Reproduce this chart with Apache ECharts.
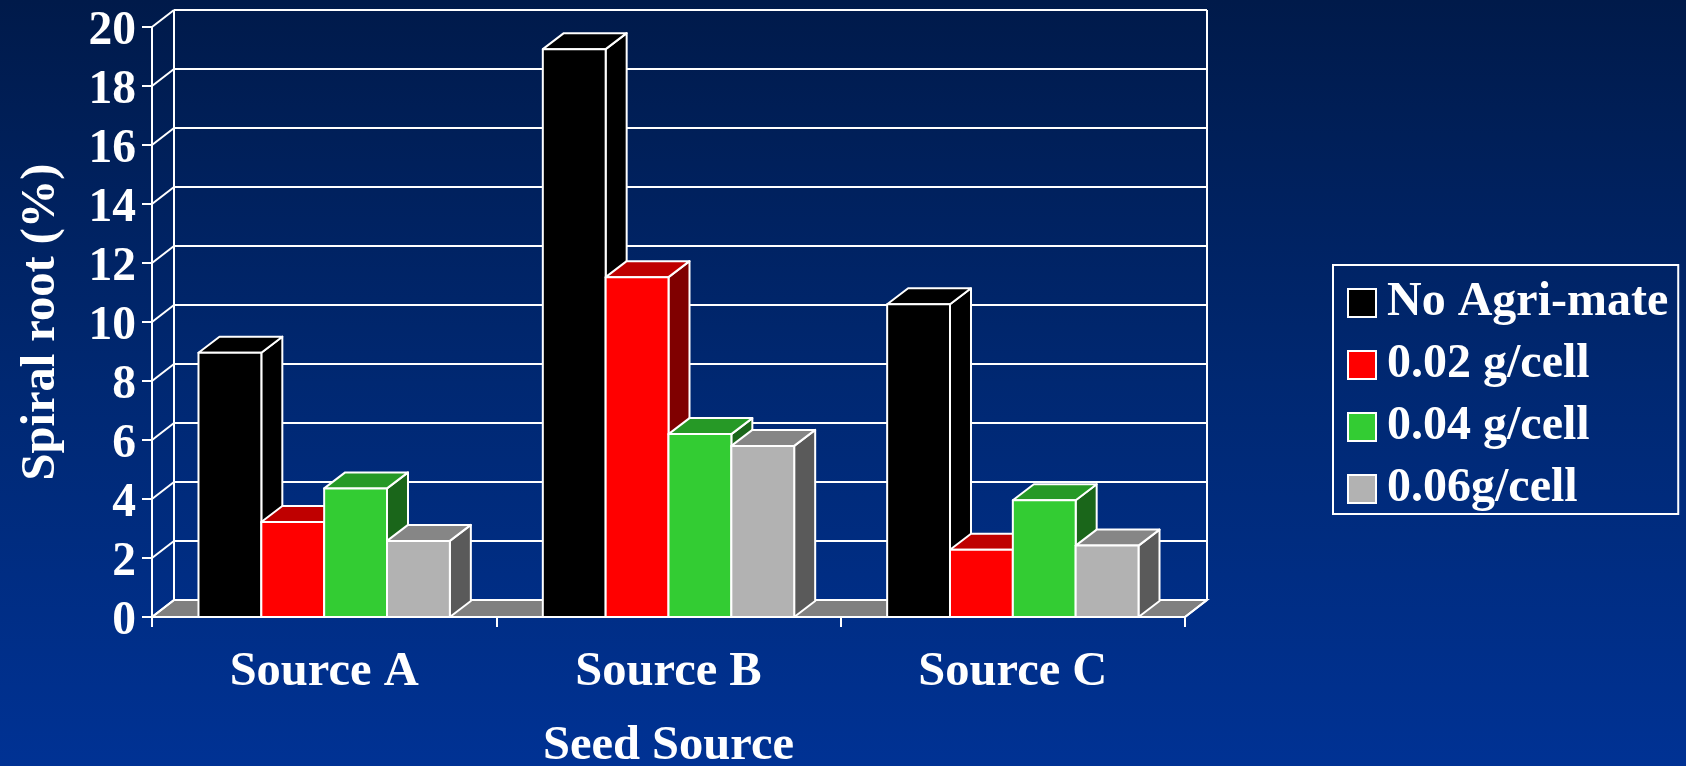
<!DOCTYPE html>
<html>
<head>
<meta charset="utf-8">
<style>html,body{margin:0;padding:0;width:100%;height:100%;overflow:hidden;background:#002a78}#c{width:1686px;height:766px}</style>
<script src="https://cdn.jsdelivr.net/npm/echarts@6/dist/echarts.min.js"></script>
</head>
<body>
<div id="c"></div>
<script>
const categories = ['Source A', 'Source B', 'Source C'];
const seriesNames = ['No Agri-mate', '0.02 g/cell', '0.04 g/cell', '0.06g/cell'];
const noAgriMate = [8.96, 19.25, 10.6];
const g002 = [3.22, 11.52, 2.28];
const g004 = [4.36, 6.2, 3.96];
const g006 = [2.58, 5.8, 2.42];
const yTicks = [0, 2, 4, 6, 8, 10, 12, 14, 16, 18, 20];

const seriesValues = [noAgriMate, g002, g004, g006];
const frontColors = ['#000000', '#ff0000', '#33cc33', '#b2b2b2'];
const topColors = ['#000000', '#bf0000', '#269926', '#868686'];
const sideColors = ['#000000', '#800000', '#1a661a', '#5a5a5a'];
const FONT = '"Liberation Serif","Times New Roman",serif';
const WALL_DX = 22, WALL_DY = 17, BAR_DX = 21, BAR_DY = 16, BAR_FRAC = 0.1825;
const LINE = {stroke: '#fff', lineWidth: 2};

function renderWall(params, api) {
  const cs = params.coordSys;
  const v = api.value(0);
  const y = api.coord([0, v])[1];
  const x0 = cs.x, x1 = cs.x + cs.width;
  const kids = [
    {type: 'line', shape: {x1: x0, y1: y, x2: x0 + WALL_DX, y2: y - WALL_DY}, style: LINE},
    {type: 'line', shape: {x1: x0 + WALL_DX, y1: y - WALL_DY, x2: x1 + WALL_DX, y2: y - WALL_DY}, style: LINE}
  ];
  if (v === 0) {
    kids.unshift({type: 'polygon', shape: {points: [[x0, y], [x0 + WALL_DX, y - WALL_DY], [x1 + WALL_DX, y - WALL_DY], [x1, y]]},
      style: {fill: '#808080', stroke: '#fff', lineWidth: 2}});
    kids.push({type: 'line', shape: {x1: x1, y1: y, x2: x1 + WALL_DX, y2: y - WALL_DY}, style: LINE});
    kids.push({type: 'line', shape: {x1: x0 + WALL_DX, y1: y - WALL_DY, x2: x0 + WALL_DX, y2: cs.y - WALL_DY}, style: LINE});
    kids.push({type: 'line', shape: {x1: x1 + WALL_DX, y1: y - WALL_DY, x2: x1 + WALL_DX, y2: cs.y - WALL_DY}, style: LINE});
  }
  return {type: 'group', children: kids};
}

function makeBarRenderer(s) {
  return function (params, api) {
    const base = api.coord([api.value(0), 0]);
    const top = api.coord([api.value(0), api.value(1)]);
    const w = api.size([1, 0])[0] * BAR_FRAC;
    const l = base[0] + (s - 2) * w, r = l + w;
    const ty = top[1], by = base[1];
    const st = {stroke: '#fff', lineWidth: 2, lineJoin: 'round'};
    return {type: 'group', children: [
      {type: 'polygon', shape: {points: [[r, ty], [r + BAR_DX, ty - BAR_DY], [r + BAR_DX, by - BAR_DY], [r, by]]},
        style: Object.assign({fill: sideColors[s]}, st)},
      {type: 'polygon', shape: {points: [[l, ty], [l + BAR_DX, ty - BAR_DY], [r + BAR_DX, ty - BAR_DY], [r, ty]]},
        style: Object.assign({fill: topColors[s]}, st)},
      {type: 'rect', shape: {x: l, y: ty, width: w, height: by - ty},
        style: Object.assign({fill: frontColors[s]}, st)}
    ]};
  };
}

const chart = echarts.init(document.getElementById('c'), null, {renderer: 'canvas'});
chart.setOption({
  animation: false,
  backgroundColor: {type: 'linear', x: 0, y: 0, x2: 0, y2: 1, colorStops: [
    {offset: 0, color: '#001a4a'}, {offset: 0.5, color: '#002872'}, {offset: 1, color: '#003294'}]},
  textStyle: {fontFamily: FONT},
  grid: {left: 152, right: 501, top: 27, bottom: 149, outerBoundsMode: 'none', containLabel: false},
  legend: {
    orient: 'vertical', left: 1333, top: 265,
    padding: [14, 10, 1, 14], itemGap: 14, itemWidth: 28, itemHeight: 28,
    borderColor: '#fff', borderWidth: 2, backgroundColor: 'transparent',
    textStyle: {color: '#fff', fontFamily: FONT, fontWeight: 'bold', fontSize: 48, padding: [0, 0, 0, 6]},
    data: seriesNames.map((n, i) => ({name: n, icon: 'rect',
      itemStyle: {color: frontColors[i], borderColor: '#fff', borderWidth: 2}}))
  },
  xAxis: {
    type: 'category', data: categories,
    axisLine: {show: true, onZero: true, lineStyle: {color: '#fff', width: 2}},
    axisTick: {show: true, length: 10, lineStyle: {color: '#fff', width: 2}},
    axisLabel: {color: '#fff', fontFamily: FONT, fontWeight: 'bold', fontSize: 48.5, margin: 31},
    name: 'Seed Source', nameLocation: 'middle', nameGap: 105,
    nameTextStyle: {color: '#fff', fontFamily: FONT, fontWeight: 'bold', fontSize: 48.5}
  },
  yAxis: {
    type: 'value', min: 0, max: 20, interval: 2,
    axisLine: {show: true, lineStyle: {color: '#fff', width: 2}},
    axisTick: {show: true, length: 10, lineStyle: {color: '#fff', width: 2}},
    splitLine: {show: false},
    axisLabel: {margin: 16, formatter: '{t|{value}}',
      rich: {t: {color: '#fff', fontFamily: FONT, fontWeight: 'bold', fontSize: 47.5, padding: [10, 0, 0, 0]}}},
    name: 'Spiral root (%)', nameLocation: 'middle', nameRotate: 90, nameGap: 86,
    nameTextStyle: {color: '#fff', fontFamily: FONT, fontWeight: 'bold', fontSize: 48.5}
  },
  series: [
    {type: 'custom', silent: true, z: 1, clip: false, renderItem: renderWall,
      data: yTicks.map(t => [t]), encode: {y: 0}}
  ].concat(seriesValues.map((vals, s) => ({
    type: 'custom', name: seriesNames[s], z: 2 + s, clip: false,
    itemStyle: {color: frontColors[s]},
    renderItem: makeBarRenderer(s),
    data: vals.map((v, i) => [i, v]), encode: {x: 0, y: 1}
  })))
});
</script>
</body>
</html>
